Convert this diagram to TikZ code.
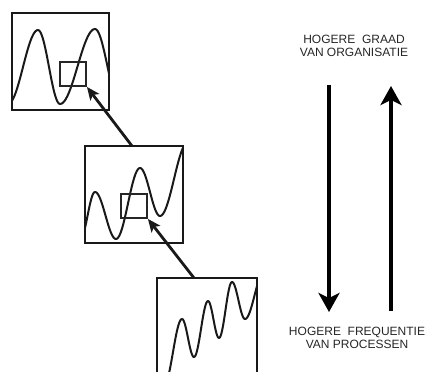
\documentclass[tikz,border=0pt]{standalone}
\usepackage{fontspec}
\setmainfont{Liberation Sans}
\usetikzlibrary{arrows.meta}
\newcommand\halfcos[4]{plot[domain=0:1,samples=25,smooth] ({#1+(#3-#1)*\x},{#2+(#4-#2)*(1-cos(180*\x))/2})}
\begin{document}
\begin{tikzpicture}[x=1pt,y=-1pt,
  frame/.style={draw=black!90, line width=1.8pt, inner sep=0pt},
  zoombox/.style={draw=black!85, line width=1.8pt, inner sep=0pt},
  wave/.style={line width=2pt, black!90, line join=round},
  diag/.style={line width=2.8pt, black!90, -{Stealth[length=13pt,width=11pt,inset=3pt]}},
  bigarrow/.style={line width=4pt, black, -{Stealth[length=19pt,width=21pt,inset=5pt]}},
  lbl/.style={font=\fontsize{12}{12}\selectfont, align=center, text=black!85, inner sep=0pt}]
\useasboundingbox (0,0) rectangle (427,371);
% box 1
\node[frame, minimum width=97pt, minimum height=97pt] (b1) at (60.5,61.5) {};
\begin{scope}
\clip (12,13) rectangle (109,110);
\draw[wave] \halfcos{8}{104}{38}{30} \halfcos{38}{30}{60}{104}
  \halfcos{60}{104}{95}{29} \halfcos{95}{29}{120}{104};
\end{scope}
\node[zoombox, minimum width=26pt, minimum height=24pt] (r1) at (73,74) {};
% box 2
\node[frame, minimum width=98pt, minimum height=97pt] (b2) at (134,194.5) {};
\begin{scope}
\clip (85,146) rectangle (183,243);
\draw[wave] \halfcos{80}{240}{95}{192} \halfcos{95}{192}{116}{239}
  \halfcos{116}{239}{140}{168} \halfcos{140}{168}{160}{216} \halfcos{160}{216}{188}{142};
\end{scope}
\node[zoombox, minimum width=26pt, minimum height=24pt] (r2) at (134,206) {};
% box 3
\coordinate (b3nw) at (157,278);
\coordinate (b3ne) at (257,278);
\draw[line width=1.8pt, black!90] (157,375) -- (b3nw) -- (b3ne) -- (257,375);
\begin{scope}
\clip (157,278) rectangle (257,375);
\draw[wave] \halfcos{164}{385}{182}{319} \halfcos{182}{319}{194}{357}
  \halfcos{194}{357}{208}{301} \halfcos{208}{301}{219}{338} \halfcos{219}{338}{232}{282}
  \halfcos{232}{282}{245}{319} \halfcos{245}{319}{264}{272};
\end{scope}
% diagonal arrows
\coordinate (a1s) at (132,146);
\coordinate (a2s) at (194,278);
\draw[diag] (a1s) -- (r1.south east);
\draw[diag] (a2s) -- (r2.south east);
% labels
\node[lbl] (top) at (354,46) {HOGERE\ \ GRAAD\\[0.5pt]VAN ORGANISATIE};
\node[lbl] (bot) at (357,338) {HOGERE\ \ FREQUENTIE\\[0.5pt]VAN PROCESSEN};
% big arrows
\coordinate (d1) at (329,85);
\coordinate (d2) at (329,312);
\coordinate (u1) at (391,311);
\coordinate (u2) at (391,86);
\draw[bigarrow] (d1) -- (d2);
\draw[bigarrow] (u1) -- (u2);
\end{tikzpicture}
\end{document}
